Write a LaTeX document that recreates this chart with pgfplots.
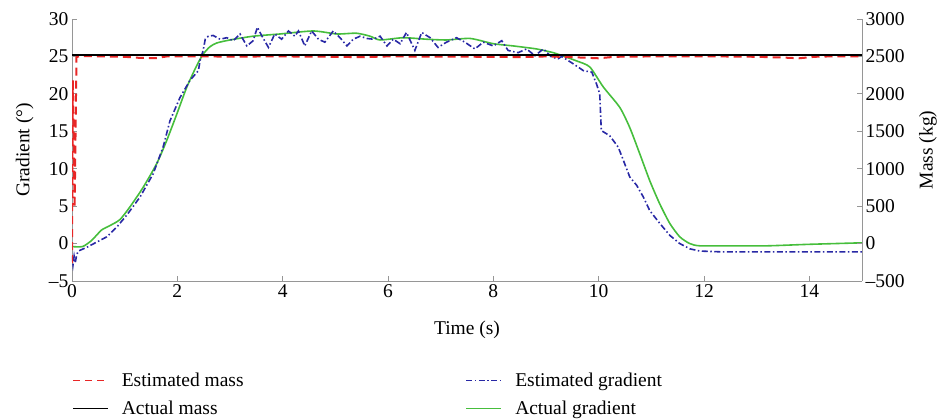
\documentclass[border=0pt]{standalone}
\usepackage{fontspec}
\setmainfont{Liberation Serif}
\usepackage{pgfplots}
\pgfplotsset{compat=1.18}
\definecolor{cred}{RGB}{232,38,38}
\definecolor{cblue}{RGB}{40,40,165}
\definecolor{cgreen}{RGB}{70,190,60}
\definecolor{caxis}{RGB}{150,150,150}
\newcommand\ff{\fontsize{19.5}{23}\selectfont}

\pgfplotstableread{
t g
0 -0.4
0.2 -0.4
0.37 0.4
0.56 1.8
0.72 2.4
0.91 3.2
1.10 4.9
1.35 7.5
1.61 10.7
1.80 13.8
1.99 17.3
2.18 20.9
2.37 23.8
2.49 25.3
2.62 26.3
2.75 26.8
3.0 27.2
3.44 27.7
3.95 28.0
4.58 28.4
5.03 28.0
5.4 28.1
5.66 27.7
5.85 27.2
6.29 27.5
6.73 27.3
7.11 27.2
7.56 27.4
8.0 26.7
8.38 26.4
8.82 26.0
9.14 25.5
9.27 25.2
9.58 24.4
9.83 23.6
10.09 20.9
10.40 18.2
10.59 15.5
10.78 12.0
10.97 8.4
11.16 5.3
11.35 2.7
11.54 0.9
11.73 0.0
11.92 -0.3
12.5 -0.3
13.2 -0.3
14.0 -0.1
15 0.1
}\actgrad

\pgfplotstableread{
t g
0 -1.6
0.02 -2.8
0.04 -1.7
0.06 -2.6
0.09 -1.5
0.12 -1.0
0.28 -0.5
0.47 0.2
0.66 0.9
0.85 2.2
1.04 3.8
1.29 6.2
1.54 9.3
1.73 12.9
1.86 16.4
2.05 19.5
2.24 21.8
2.40 23.1
2.43 24.4
2.49 25.8
2.53 27.3
2.59 27.7
2.68 27.8
2.81 27.3
2.94 27.5
3.06 27.1
3.19 28.0
3.32 26.4
3.44 27.1
3.52 28.9
3.60 27.8
3.73 26.2
3.85 28.0
3.98 27.3
4.11 28.4
4.23 27.7
4.30 28.4
4.42 26.4
4.55 28.4
4.68 27.3
4.80 26.9
4.96 28.4
5.09 27.5
5.22 26.4
5.34 27.3
5.47 27.7
5.60 27.4
5.72 27.3
5.85 27.7
5.98 26.4
6.10 27.3
6.23 26.7
6.35 28.2
6.51 25.8
6.64 28.2
6.80 27.5
6.95 26.2
7.11 26.9
7.30 27.5
7.46 26.9
7.65 26.0
7.81 26.9
8.00 26.4
8.16 27.1
8.28 25.8
8.47 25.5
8.63 26.0
8.79 25.1
8.95 26.0
9.11 24.9
9.23 24.7
9.30 25.0
9.52 24.0
9.71 23.1
9.87 22.9
9.96 21.3
10.02 20.0
10.05 15.1
10.21 14.4
10.37 12.9
10.47 11.1
10.59 8.9
10.72 7.8
10.85 6.2
10.97 4.4
11.16 2.7
11.35 1.1
11.54 0.0
11.73 -0.7
11.92 -1.0
12.3 -1.1
15 -1.1
}\estgrad

\pgfplotstableread{
t m
0 -260
0.015 2180
0.05 480
0.085 2490
0.15 2505
0.6 2500
1.0 2495
1.3 2480
1.6 2478
1.8 2500
2.5 2500
3.0 2498
4.0 2500
5.0 2495
5.5 2490
6.0 2500
7.0 2497
8.0 2495
8.5 2490
9.0 2500
9.5 2490
10.0 2475
10.3 2495
11.0 2500
12.0 2502
13.0 2495
13.5 2485
13.8 2475
14.1 2495
14.5 2502
15 2500
}\estmass

\pgfplotstableread{
t m
0 2520
15 2520
}\actmass

\begin{document}
\begin{tikzpicture}
\pgfplotsset{
  common/.style={
    at={(72pt,139pt)}, anchor=south west,
    scale only axis, width=790pt, height=262pt,
    xmin=0, xmax=15,
    tick align=inside, major tick length=5pt,
    every tick/.style={caxis, line width=0.8pt},
    axis line style={caxis, line width=0.8pt},
    tick label style={font=\ff, text=black},
    label style={font=\ff},
  }
}
\begin{axis}[common,
  axis x line*=bottom, axis y line*=left,
  ymin=-5, ymax=30,
  xtick={0,2,4,6,8,10,12,14}, xticklabels={0,2,4,6,8,10,12,14},
  ytick={-5,0,5,10,15,20,25,30}, yticklabels={--5,0,5,10,15,20,25,30},
  xlabel={Time (s)}, ylabel={Gradient (°)},
  xlabel style={at={(axis description cs:0.5,-0.187)}, anchor=center},
  ylabel style={at={(axis description cs:-0.06,0.5)}, anchor=center},
]
\addplot[cgreen, line width=1.6pt, smooth, tension=0.4] table[x=t,y=g] {\actgrad};
\addplot[cblue, line width=1.6pt, dash pattern=on 6pt off 2.5pt on 1.5pt off 2.5pt] table[x=t,y=g] {\estgrad};
\end{axis}
\begin{axis}[common,
  axis x line=none, axis y line*=right,
  ymin=-500, ymax=3000,
  ytick={-500,0,500,1000,1500,2000,2500,3000},
  yticklabels={--500,0,500,1000,1500,2000,2500,3000},
  ylabel={Mass (kg)},
  ylabel style={at={(axis description cs:1.0835,0.5)}, anchor=center, rotate=0},
  legend columns=2,
  legend cell align=left,
  legend image code/.code={\draw[#1] (0pt,0pt) -- (35pt,0pt);},
  legend style={at={(axis description cs:0,-0.343)}, anchor=north west,
    draw=none, fill=none, inner sep=0pt, font=\ff,
    nodes={inner sep=2pt},
    row sep=9pt,
    /tikz/every odd column/.append style={column sep=11pt},
    /tikz/every even column/.append style={column sep=220pt}},
]
\addlegendimage{cred, line width=1.6pt, dash pattern=on 7pt off 5pt}
\addlegendentry{Estimated mass}
\addlegendimage{cblue, line width=1.6pt, dash pattern=on 6pt off 2.5pt on 1.5pt off 2.5pt}
\addlegendentry{Estimated gradient}
\addlegendimage{black, line width=1.6pt}
\addlegendentry{Actual mass}
\addlegendimage{cgreen, line width=1.6pt}
\addlegendentry{Actual gradient}
\addplot[forget plot, cred, line width=2pt, dash pattern=on 8pt off 5pt] table[x=t,y=m] {\estmass};
\addplot[forget plot, black, line width=1.8pt] table[x=t,y=m] {\actmass};
\end{axis}
\pgfresetboundingbox
\useasboundingbox (0,0) rectangle (940pt,420pt);
\end{tikzpicture}
\end{document}
